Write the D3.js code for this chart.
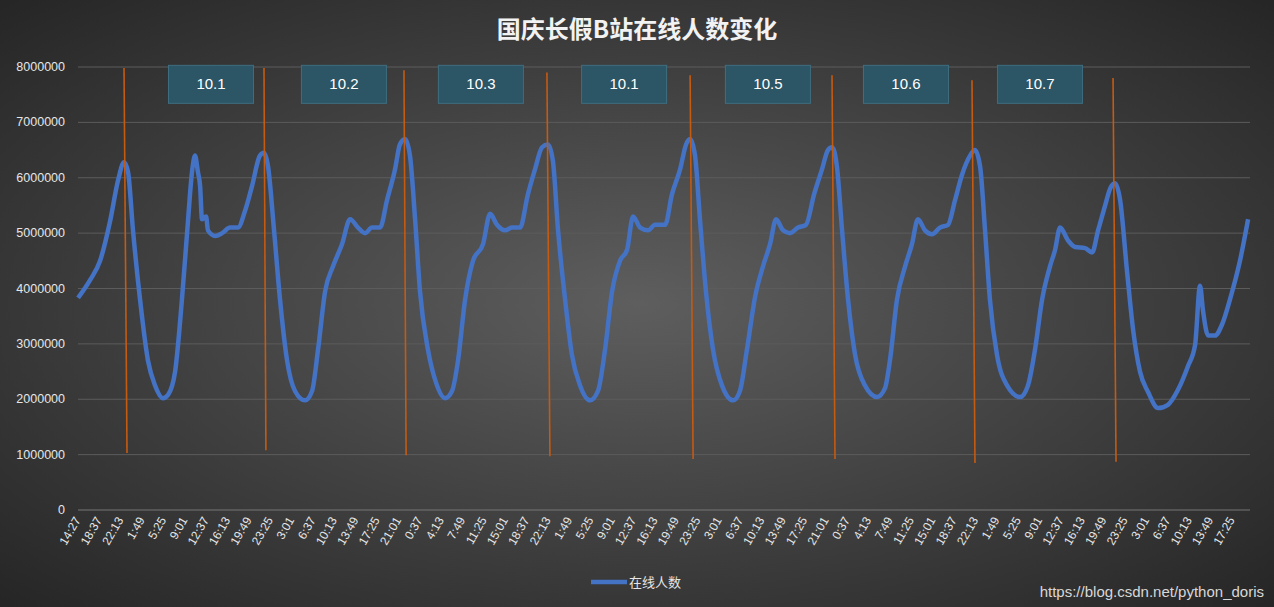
<!DOCTYPE html>
<html><head><meta charset="utf-8">
<script src="https://cdn.jsdelivr.net/npm/d3@7"></script>
<style>html,body{margin:0;padding:0;}body{width:1274px;height:607px;overflow:hidden;}</style>
</head><body><svg id="c" width="1274" height="607"></svg>
<script>
const tickLabels = ["14:27","18:37","22:13","1:49","5:25","9:01","12:37","16:13","19:49","23:25","3:01","6:37","10:13","13:49","17:25","21:01","0:37","4:13","7:49","11:25","15:01","18:37","22:13","1:49","5:25","9:01","12:37","16:13","19:49","23:25","3:01","6:37","10:13","13:49","17:25","21:01","0:37","4:13","7:49","11:25","15:01","18:37","22:13","1:49","5:25","9:01","12:37","16:13","19:49","23:25","3:01","6:37","10:13","13:49","17:25"];
const yTicks = [0,1000000,2000000,3000000,4000000,5000000,6000000,7000000,8000000];
// time position in label-index units, value in millions
const seriesT = [0.05,0.61,1.08,1.54,1.92,2.20,2.39,2.62,2.95,3.32,3.65,4.02,4.26,4.59,4.91,5.19,5.38,5.52,5.66,5.76,5.85,6.04,6.13,6.46,6.79,7.16,7.53,7.86,8.19,8.56,8.75,8.94,9.22,9.50,9.83,10.20,10.67,11.00,11.28,11.61,11.98,12.40,12.78,13.15,13.48,13.80,14.18,14.51,14.88,15.11,15.35,15.58,15.82,16.05,16.42,16.80,17.22,17.55,17.83,18.16,18.53,19.00,19.33,19.65,20.03,20.36,20.73,21.10,21.43,21.76,22.04,22.27,22.51,22.84,23.16,23.54,24.01,24.38,24.71,25.04,25.41,25.74,26.02,26.35,26.72,27.05,27.52,27.84,28.22,28.50,28.69,28.92,29.15,29.43,29.76,30.18,30.70,31.02,31.35,31.73,32.10,32.43,32.71,33.04,33.36,33.74,34.11,34.49,34.86,35.14,35.33,35.56,35.80,36.08,36.41,36.87,37.44,37.81,38.04,38.37,38.75,39.07,39.35,39.68,40.01,40.38,40.76,41.09,41.41,41.79,42.02,42.26,42.49,42.72,43.05,43.52,44.13,44.50,44.83,45.16,45.53,45.77,46.00,46.37,46.70,47.17,47.50,47.78,48.11,48.34,48.57,48.81,49.13,49.42,49.74,50.12,50.59,51.05,51.52,51.99,52.32,52.55,52.69,52.93,53.25,53.58,53.95,54.42,54.80];
const seriesV = [3.83,4.15,4.5,5.2,5.95,6.28,6.1,5.05,3.8,2.7,2.25,2.02,2.08,2.5,3.8,5.2,6.1,6.4,6.1,5.85,5.25,5.3,5.05,4.95,5.0,5.1,5.1,5.4,5.85,6.4,6.45,6.2,5.05,3.8,2.7,2.15,1.98,2.15,2.9,3.95,4.4,4.8,5.25,5.1,5.0,5.1,5.1,5.6,6.15,6.6,6.7,6.4,5.25,3.95,2.9,2.3,2.02,2.15,2.7,3.8,4.5,4.8,5.35,5.15,5.05,5.1,5.1,5.7,6.15,6.55,6.6,6.3,5.05,3.8,2.8,2.25,1.98,2.15,2.9,3.95,4.5,4.7,5.3,5.1,5.05,5.15,5.15,5.7,6.15,6.6,6.7,6.4,5.25,3.95,2.9,2.25,1.98,2.15,2.9,3.85,4.4,4.8,5.25,5.05,5.0,5.1,5.15,5.7,6.15,6.5,6.55,6.2,5.05,3.8,2.8,2.25,2.04,2.2,2.7,3.8,4.4,4.8,5.25,5.05,4.98,5.1,5.15,5.6,6.05,6.4,6.5,6.2,5.05,3.8,2.8,2.25,2.04,2.25,2.9,3.8,4.4,4.7,5.1,4.87,4.75,4.73,4.65,5.05,5.5,5.8,5.9,5.6,4.33,3.25,2.5,2.13,1.84,1.9,2.17,2.6,2.98,4.05,3.6,3.15,3.15,3.35,3.8,4.5,5.25];
const markerT0 = [2.20,8.75,15.30,21.99,28.69,35.33,41.88,48.48];
const markerT1 = [2.34,8.84,15.40,22.13,28.83,35.47,42.02,48.62];
const markerV0 = [7.98,7.98,7.94,7.9,7.85,7.85,7.76,7.8];
const markerV1 = [1.03,1.08,0.99,0.97,0.92,0.92,0.85,0.87];
const dayLabels = ["10.1","10.2","10.3","10.1","10.5","10.6","10.7"];
const dayLabelT = [6.27,12.49,18.9,25.6,32.33,38.79,45.06];

const svg = d3.select("#c");
const defs = svg.append("defs");
const g = defs.append("radialGradient").attr("id","bg").attr("cx","50%").attr("cy","50%").attr("r","75%");
g.append("stop").attr("offset","0%").attr("stop-color","#5e5e5e");
g.append("stop").attr("offset","100%").attr("stop-color","#222");
svg.append("rect").attr("width",1274).attr("height",607).attr("fill","url(#bg)");

const x = d3.scaleLinear().domain([0,54]).range([77,1231]);
const y = d3.scaleLinear().domain([0,8000000]).range([510,67]);

svg.append("text").attr("x",637).attr("y",38).attr("text-anchor","middle").attr("fill","#f2f2f2")
  .attr("font-family","Noto Sans CJK SC").attr("font-weight","bold").attr("font-size",24).text("国庆长假B站在线人数变化");

svg.append("g").selectAll("line").data(yTicks).join("line")
  .attr("x1",78).attr("x2",1250).attr("y1",d=>y(d)).attr("y2",d=>y(d))
  .attr("stroke",d=>d===0?"#777":"#5c5c5c").attr("stroke-width",1);
svg.append("g").selectAll("text").data(yTicks).join("text")
  .attr("x",65).attr("y",d=>y(d)+4).attr("text-anchor","end").attr("fill","#e6e6e6")
  .attr("font-family","Liberation Sans, Arial").attr("font-size",12.5).text(d=>d);

svg.append("g").selectAll("text").data(tickLabels).join("text")
  .attr("transform",(d,i)=>`translate(${x(i)+4},${520}) rotate(-60)`)
  .attr("text-anchor","end").attr("fill","#e6e6e6")
  .attr("font-family","Liberation Sans, Arial").attr("font-size",12).text(d=>d);

const pts = seriesT.map((t,i)=>[t,seriesV[i]*1e6]);
svg.append("path").datum(pts).attr("fill","none").attr("stroke","#4472c4").attr("stroke-width",4.5)
  .attr("stroke-linejoin","round").attr("d",d3.line().x(d=>x(d[0])).y(d=>y(d[1])).curve(d3.curveMonotoneX));

svg.append("g").selectAll("line").data(markerT0).join("line")
  .attr("x1",d=>x(d)).attr("x2",(d,i)=>x(markerT1[i]))
  .attr("y1",(d,i)=>y(markerV0[i]*1e6)).attr("y2",(d,i)=>y(markerV1[i]*1e6))
  .attr("stroke","#c55a11").attr("stroke-width",1.6);

const bw=85, bh=38;
const bx = svg.append("g").selectAll("g").data(dayLabels).join("g");
bx.append("rect").attr("x",(d,i)=>x(dayLabelT[i])-bw/2).attr("y",y(8030000)).attr("width",bw).attr("height",bh)
  .attr("fill","#2c5566").attr("stroke","#3f6e80").attr("stroke-width",1);
bx.append("text").attr("x",(d,i)=>x(dayLabelT[i])).attr("y",y(8030000)+24).attr("text-anchor","middle")
  .attr("fill","#fff").attr("font-family","Liberation Sans, Arial").attr("font-size",15).text(d=>d);

svg.append("line").attr("x1",591).attr("x2",627).attr("y1",582).attr("y2",582).attr("stroke","#4472c4").attr("stroke-width",4.5);
svg.append("text").attr("x",629).attr("y",587).attr("fill","#e6e6e6").attr("font-family","Noto Sans CJK SC").attr("font-size",13).text("在线人数");
svg.append("text").attr("x",1264).attr("y",597).attr("text-anchor","end").attr("fill","#d8d8d8").attr("font-family","Liberation Sans, Arial").attr("font-size",15).text("https://blog.csdn.net/python_doris");
</script></body></html>
